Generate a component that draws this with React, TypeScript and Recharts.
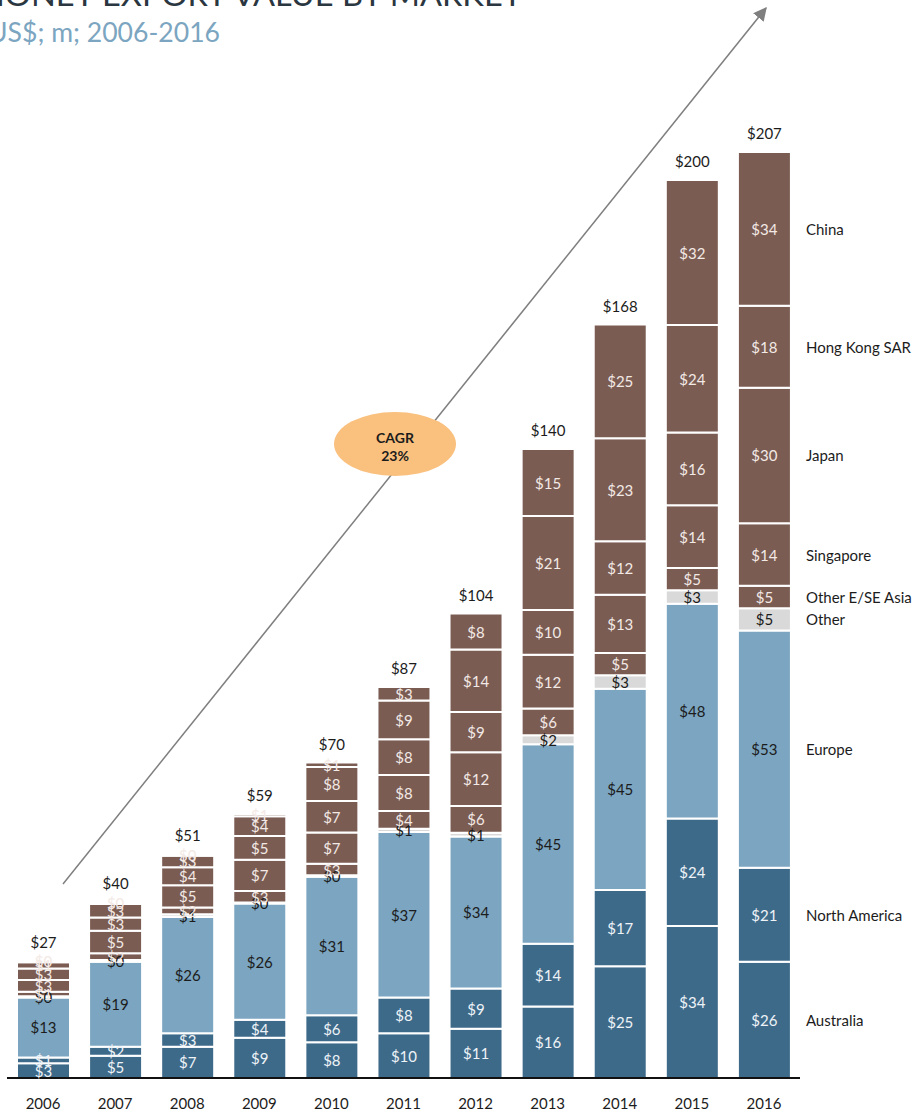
import { BarChart, Bar, XAxis, YAxis, LabelList } from "recharts"

const years = ["2006", "2007", "2008", "2009", "2010", "2011", "2012", "2013", "2014", "2015", "2016"]

// US$ m, stacked bottom -> top
const australia = [3.3, 5, 7, 9, 8, 10, 11, 16, 25, 34, 26]
const northAmerica = [1.3, 2, 3, 4, 6, 8, 9, 14, 17, 24, 21]
const europe = [13.4, 19, 26, 26, 31, 37, 34, 44.6, 45, 48, 53]
const other = [0.3, 0.4, 0.6, 0.2, 0.3, 0.7, 0.8, 2, 3, 3, 5]
const otherAsia = [1, 1.5, 1.5, 2.6, 2.6, 4, 6, 6, 5, 5, 5]
const singapore = [2.6, 5, 5, 7, 7, 8, 12, 12, 13, 14, 14]
const japan = [2.6, 3, 4, 5.3, 7, 8, 9, 10, 12, 16.3, 30.3]
const hongKong = [1.4, 3, 2.6, 4.4, 7.6, 8.7, 14, 21, 23, 24, 18.3]
const china = [0.3, 0.4, 0.3, 0.5, 1, 3, 8, 15, 25.4, 32.4, 34.4]

const totals = [27, 40, 51, 59, 70, 87, 104, 140, 168, 200, 207]

const BROWN = "#7a5c53"
const DARK_BLUE = "#3e6a8a"
const LIGHT_BLUE = "#7ba5c0"
const GREY = "#d9d9d9"
const FONT = "Lato, 'Open Sans', sans-serif"

const series = [
  { key: "australia", name: "Australia", values: australia, fill: DARK_BLUE, text: "#eef3f7" },
  { key: "northAmerica", name: "North America", values: northAmerica, fill: DARK_BLUE, text: "#eef3f7" },
  { key: "europe", name: "Europe", values: europe, fill: LIGHT_BLUE, text: "#1c1c1c" },
  { key: "other", name: "Other", values: other, fill: GREY, text: "#1c1c1c" },
  { key: "otherAsia", name: "Other E/SE Asia", values: otherAsia, fill: BROWN, text: "#f3e9e5" },
  { key: "singapore", name: "Singapore", values: singapore, fill: BROWN, text: "#f3e9e5" },
  { key: "japan", name: "Japan", values: japan, fill: BROWN, text: "#f3e9e5" },
  { key: "hongKong", name: "Hong Kong SAR", values: hongKong, fill: BROWN, text: "#f3e9e5" },
  { key: "china", name: "China", values: china, fill: BROWN, text: "#f3e9e5" },
]

const data = years.map((year, i) => {
  const row: Record<string, string | number> = { year }
  series.forEach((s) => (row[s.key] = s.values[i]))
  return row
})

const valueLabel = (color: string) => (props: any) => {
  const { x, y, width, height, value } = props
  return (
    <text x={x + width / 2} y={y + height / 2} textAnchor="middle" dominantBaseline="central"
      fill={color} fontSize={15} fontFamily={FONT}>
      ${Math.round(value)}
    </text>
  )
}

const legendLabel = (name: string) => (props: any) => {
  const { x, y, width, height, index } = props
  if (index !== years.length - 1) return null
  return (
    <text x={x + width + 15} y={y + height / 2} dominantBaseline="central"
      fill="#1c1c1c" fontSize={15} fontFamily={FONT}>
      {name}
    </text>
  )
}

const totalLabel = (props: any) => {
  const { x, y, width, index } = props
  return (
    <text x={x + width / 2} y={y - 19} textAnchor="middle" dominantBaseline="central"
      fill="#1c1c1c" fontSize={15} fontFamily={FONT}>
      ${totals[index]}
    </text>
  )
}

export default function App() {
  return (
    <div style={{ position: "absolute", left: 0, top: 0, width: 923, height: 1113, overflow: "hidden", background: "#fff" }}>
      <BarChart width={923} height={1113} data={data} barSize={53}
        margin={{ top: 49, right: 123, left: 7, bottom: 0 }}>
        <XAxis dataKey="year" height={35} tickLine={false} tickMargin={14}
          axisLine={{ stroke: "#111", strokeWidth: 2 }}
          tick={{ fill: "#1c1c1c", fontSize: 15, fontFamily: FONT }} />
        <YAxis hide domain={[0, 230]} />
        {series.map((s) => (
          <Bar key={s.key} dataKey={s.key} stackId="a" fill={s.fill} stroke="#fff" strokeWidth={2}
            isAnimationActive={false}>
            <LabelList dataKey={s.key} content={valueLabel(s.text)} />
            <LabelList dataKey={s.key} content={legendLabel(s.name)} />
            {s.key === "china" && <LabelList dataKey={s.key} content={totalLabel} />}
          </Bar>
        ))}
      </BarChart>
      <svg width={923} height={1113} style={{ position: "absolute", left: 0, top: 0, pointerEvents: "none" }}>
        <defs>
          <marker id="head" viewBox="0 0 10 10" refX="9" refY="5" markerWidth="9" markerHeight="9" orient="auto">
            <path d="M0,0 L10,5 L0,10 z" fill="#7f7f7f" />
          </marker>
        </defs>
        <text x={-20} y={6} fontSize={30} fill="#2a3640" fontFamily={FONT} textLength={542}
          lengthAdjust="spacingAndGlyphs">HONEY EXPORT VALUE BY MARKET</text>
        <text x={-12} y={42} fontSize={26} fill="#7ba5c0" fontFamily={FONT} textLength={232}
          lengthAdjust="spacingAndGlyphs">US$; m; 2006-2016</text>
        <line x1={63} y1={884} x2={766} y2={8} stroke="#7f7f7f" strokeWidth={1.5} markerEnd="url(#head)" />
        <ellipse cx={395} cy={444} rx={61} ry={32} fill="#f9c07e" />
        <text x={395} y={437} textAnchor="middle" dominantBaseline="central" fontSize={14}
          fontWeight={700} fill="#1c1c1c" fontFamily={FONT}>CAGR</text>
        <text x={395} y={455} textAnchor="middle" dominantBaseline="central" fontSize={14}
          fontWeight={700} fill="#1c1c1c" fontFamily={FONT}>23%</text>
      </svg>
    </div>
  )
}
